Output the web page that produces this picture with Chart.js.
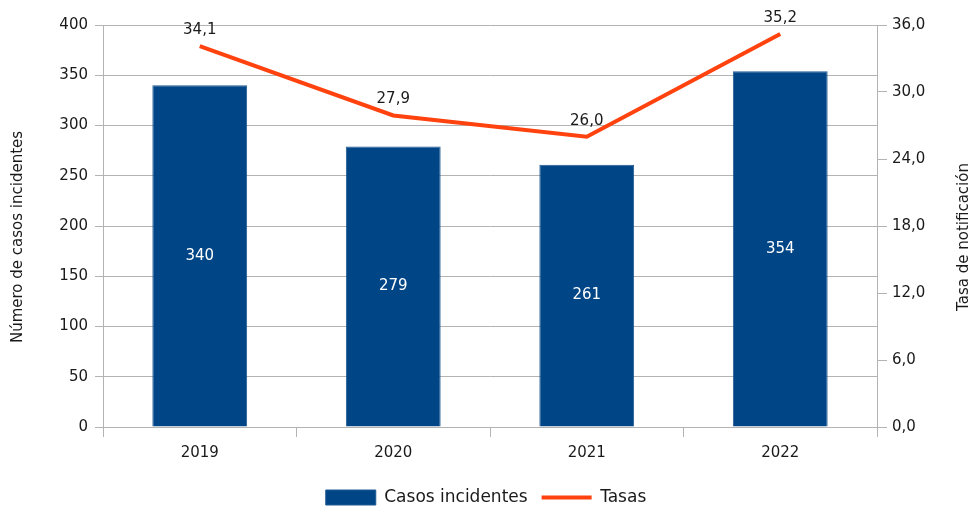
<!DOCTYPE html>
<html>
<head>
<meta charset="utf-8">
<script src="https://cdn.jsdelivr.net/npm/chart.js@4"></script>
<style>
html,body{margin:0;padding:0;background:#fff;}
#wrap{width:972px;height:508px;position:relative;}
</style>
</head>
<body>
<div id="wrap"><canvas id="c"></canvas></div>
<script>
const years = ['2019', '2020', '2021', '2022'];
const casos = [340, 279, 261, 354];
const tasas = [34.1, 27.9, 26.0, 35.2];
const leftTicksMax = 400;
const rightTicksMax = 36;
const leftTitle = 'Número de casos incidentes';
const rightTitle = 'Tasa de notificación';

const FONT = 'DejaVu Sans';
const TXT = '#1a1a1a';
const GRID = '#b3b3b3';

const fmt = v => v.toFixed(1).replace('.', ',');

const labelsPlugin = {
  id: 'valueLabels',
  afterDatasetsDraw(chart) {
    const ctx = chart.ctx;
    ctx.save();
    ctx.font = '15px "' + FONT + '"';
    ctx.textAlign = 'center';
    ctx.textBaseline = 'middle';
    const m0 = chart.getDatasetMeta(0);
    m0.data.forEach((el, i) => {
      ctx.fillStyle = '#ffffff';
      ctx.fillText(String(casos[i]), el.x, (el.y + el.base) / 2);
    });
    const m1 = chart.getDatasetMeta(1);
    m1.data.forEach((el, i) => {
      ctx.fillStyle = TXT;
      ctx.fillText(fmt(tasas[i]), el.x, el.y - 16);
    });
    // axis titles, both reading bottom-to-top
    const ca = chart.chartArea;
    const cy = (ca.top + ca.bottom) / 2 + 11;
    ctx.font = '15px "' + FONT + '"';
    ctx.fillStyle = TXT;
    [[chart.scales.y.left + 18, leftTitle], [chart.scales.y1.right - 8, rightTitle]].forEach(([x, t]) => {
      ctx.save();
      ctx.translate(x, cy);
      ctx.rotate(-Math.PI / 2);
      ctx.fillText(t, 0, 0);
      ctx.restore();
    });
    ctx.restore();
  }
};

new Chart(document.getElementById('c'), {
  type: 'bar',
  data: {
    labels: years,
    datasets: [
      {
        type: 'bar',
        label: 'Casos incidentes',
        data: casos,
        backgroundColor: '#004586',
        borderColor: '#1f5a93',
        borderWidth: 1,
        pointStyle: 'rect',
        yAxisID: 'y',
        categoryPercentage: 1,
        barPercentage: 0.49,
        order: 2
      },
      {
        type: 'line',
        label: 'Tasas',
        data: tasas,
        borderColor: '#ff420e',
        backgroundColor: '#ff420e',
        borderWidth: 4,
        pointRadius: 0,
        pointHoverRadius: 0,
        pointStyle: 'line',
        tension: 0,
        yAxisID: 'y1',
        order: 1
      }
    ]
  },
  options: {
    responsive: true,
    maintainAspectRatio: false,
    animation: false,
    devicePixelRatio: 1,
    layout: { padding: { top: 25, left: 0, right: 0, bottom: -8 } },
    plugins: {
      tooltip: { enabled: false },
      legend: {
        position: 'bottom',
        labels: {
          usePointStyle: true,
          pointStyleWidth: 50,
          boxHeight: 15,
          padding: 14,
          color: TXT,
          font: { family: FONT, size: 17 },
          sort: (a, b) => a.datasetIndex - b.datasetIndex
        }
      }
    },
    scales: {
      x: {
        offset: true,
        grid: { display: true, drawOnChartArea: false, color: GRID, tickLength: 10, offset: true },
        border: { color: GRID },
        ticks: { color: TXT, font: { family: FONT, size: 15 }, padding: 7 },
        afterFit(s) { s.height = 48; }
      },
      y: {
        position: 'left',
        min: 0,
        max: leftTicksMax,
        ticks: { stepSize: 50, color: TXT, font: { family: FONT, size: 15 }, padding: 7 },
        grid: { color: GRID, tickLength: 8 },
        border: { color: GRID },
        title: { display: false },
        afterFit(s) { s.width = 103; }
      },
      y1: {
        position: 'right',
        min: 0,
        max: rightTicksMax,
        ticks: { stepSize: 6, color: TXT, font: { family: FONT, size: 15 }, padding: 5, callback: v => fmt(v) },
        grid: { drawOnChartArea: false, color: GRID, tickLength: 10 },
        border: { color: GRID },
        title: { display: false },
        afterFit(s) { s.width = 95; }
      }
    }
  },
  plugins: [labelsPlugin]
});
</script>
</body>
</html>
